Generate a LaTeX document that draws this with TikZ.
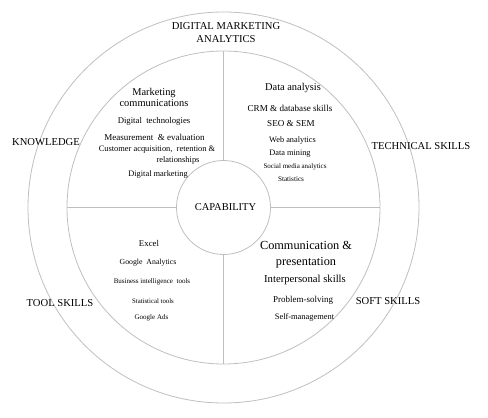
\documentclass[tikz,border=0pt]{standalone}
\usepackage{fontspec}
\setmainfont{Liberation Serif}
\usetikzlibrary{positioning}

\begin{document}
\begin{tikzpicture}[x=1pt, y=-1pt,
    ring/.style={circle, draw=gray!50, line width=0.8pt, inner sep=0pt},
    divider/.style={draw=gray!50, line width=0.8pt},
    area/.style={font=\fontsize{10.6}{12.5}\selectfont, align=center, inner sep=0pt},
    head/.style={font=\fontsize{#1}{#1}\selectfont, align=center, inner sep=0pt},
    head/.default=10.4,
    item/.style={font=\fontsize{#1}{#1}\selectfont, inner sep=0pt},
    item/.default=8.5
]
    \useasboundingbox (0,0) rectangle (488,418);

    \node[ring, minimum size=391pt] (outer) at (223.5,207.5) {};
    \node[ring, minimum size=313pt] (mid) at (223.5,207.5) {};
    \node[ring, minimum size=94pt, font=\fontsize{10.5}{12}\selectfont] (cap) at (223.5,207.5) {\hspace{4pt}CAPABILITY};

    \draw[divider] (cap.north) -- (mid.north);
    \draw[divider] (cap.south) -- (mid.south);
    \draw[divider] (cap.west) -- (mid.west);
    \draw[divider] (cap.east) -- (mid.east);

    \node[area] (dma) at (226,32.5) {DIGITAL MARKETING\\ANALYTICS};
    \node[area] (know) at (46,142) {KNOWLEDGE};
    \node[area] (tech) at (421,146) {TECHNICAL SKILLS};
    \node[area] (tool) at (60,303) {TOOL SKILLS};
    \node[area] (soft) at (388,301) {SOFT SKILLS};

    \node[head] (mc) at (154,97.5) {Marketing\\[1pt]communications};
    \node[item=8.7] (dt) at (154,121) {Digital\ \ technologies};
    \node[item=9] (me) at (154.5,137) {Measurement\ \ \& evaluation};
    \node[item=8.4] (ca) at (157,150) {Customer acquisition,\ \ retention \&};
    \node[item=8.4] (rel) at (178,160) {relationships};
    \node[item=8.4] (dm) at (158,174) {Digital marketing};

    \node[head] (da) at (293,88) {Data analysis};
    \node[item=9.1] (crm) at (290,108) {CRM \& database skills};
    \node[item=9.1] (seo) at (291,124) {SEO \& SEM};
    \node[item=8.3] (web) at (292.5,141) {Web analytics};
    \node[item=8.3] (dmin) at (290,154) {Data mining};
    \node[item=7] (sma) at (295,167) {Social media analytics};
    \node[item=7.2] (stat) at (291,179) {Statistics};

    \node[item=8.8] (xl) at (149,243) {Excel};
    \node[item=7.8] (ga) at (148,263) {Google\ \ Analytics};
    \node[item=7] (bi) at (152,282) {Business intelligence\ \ tools};
    \node[item=6.8] (st) at (153,301) {Statistical tools};
    \node[item=7] (gad) at (151.5,318) {Google Ads};

    \node[head=12.3] (cp) at (306,255) {Communication \&\\[3.5pt]presentation};
    \node[item=10.7] (ip) at (305,280) {Interpersonal skills};
    \node[item=9] (ps) at (303,300) {Problem-solving};
    \node[item=8.4] (sm) at (304.5,317) {Self-management};
\end{tikzpicture}
\end{document}
